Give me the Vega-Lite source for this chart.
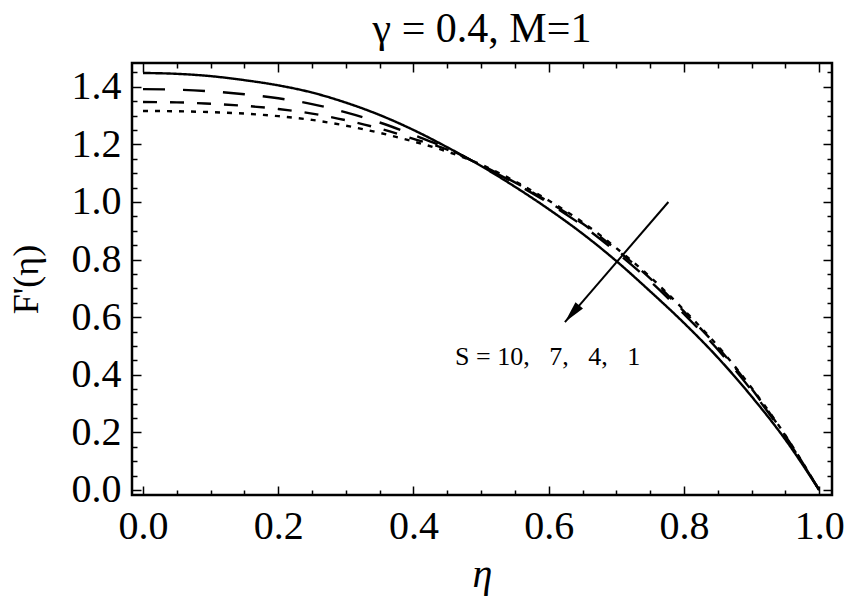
{
  "$schema": "https://vega.github.io/schema/vega-lite/v6.json",
  "width": 700,
  "height": 432,
  "autosize": "none",
  "padding": {"left": 132, "top": 63, "right": 12, "bottom": 104},
  "background": "white",
  "config": {
    "view": {"stroke": "black", "strokeWidth": 2.5},
    "font": "Liberation Serif",
    "axis": {"grid": false, "domain": false, "tickColor": "black", "tickWidth": 1.5, "labelColor": "black", "titleColor": "black", "labelFont": "Liberation Serif", "titleFont": "Liberation Serif", "titleFontWeight": "normal", "labelFlush": false, "labelOverlap": false}
  },
  "title": {"text": "γ = 0.4, M=1", "fontSize": 42, "font": "Liberation Serif", "fontWeight": "normal", "offset": 11, "anchor": "middle", "color": "black"},
  "datasets": {
    "curves": [
      {"eta": 0, "F": 1.448, "S": "10"}, {"eta": 0.05, "F": 1.445, "S": "10"}, {"eta": 0.1, "F": 1.437, "S": "10"}, {"eta": 0.15, "F": 1.423, "S": "10"}, {"eta": 0.2, "F": 1.405, "S": "10"}, {"eta": 0.25, "F": 1.38, "S": "10"}, {"eta": 0.3, "F": 1.345, "S": "10"}, {"eta": 0.35, "F": 1.302, "S": "10"}, {"eta": 0.4, "F": 1.25, "S": "10"}, {"eta": 0.45, "F": 1.19, "S": "10"}, {"eta": 0.5, "F": 1.125, "S": "10"}, {"eta": 0.55, "F": 1.053, "S": "10"}, {"eta": 0.6, "F": 0.975, "S": "10"}, {"eta": 0.65, "F": 0.89, "S": "10"}, {"eta": 0.7, "F": 0.795, "S": "10"}, {"eta": 0.75, "F": 0.69, "S": "10"}, {"eta": 0.8, "F": 0.58, "S": "10"}, {"eta": 0.85, "F": 0.46, "S": "10"}, {"eta": 0.9, "F": 0.325, "S": "10"}, {"eta": 0.95, "F": 0.175, "S": "10"}, {"eta": 1, "F": 0, "S": "10"},
      {"eta": 0, "F": 1.392, "S": "7"}, {"eta": 0.05, "F": 1.39, "S": "7"}, {"eta": 0.1, "F": 1.384, "S": "7"}, {"eta": 0.15, "F": 1.374, "S": "7"}, {"eta": 0.2, "F": 1.36, "S": "7"}, {"eta": 0.25, "F": 1.34, "S": "7"}, {"eta": 0.3, "F": 1.311, "S": "7"}, {"eta": 0.35, "F": 1.276, "S": "7"}, {"eta": 0.4, "F": 1.233, "S": "7"}, {"eta": 0.45, "F": 1.186, "S": "7"}, {"eta": 0.5, "F": 1.127, "S": "7"}, {"eta": 0.55, "F": 1.065, "S": "7"}, {"eta": 0.6, "F": 0.996, "S": "7"}, {"eta": 0.65, "F": 0.918, "S": "7"}, {"eta": 0.7, "F": 0.826, "S": "7"}, {"eta": 0.75, "F": 0.725, "S": "7"}, {"eta": 0.8, "F": 0.611, "S": "7"}, {"eta": 0.85, "F": 0.488, "S": "7"}, {"eta": 0.9, "F": 0.346, "S": "7"}, {"eta": 0.95, "F": 0.185, "S": "7"}, {"eta": 1, "F": 0, "S": "7"},
      {"eta": 0, "F": 1.347, "S": "4"}, {"eta": 0.05, "F": 1.346, "S": "4"}, {"eta": 0.1, "F": 1.341, "S": "4"}, {"eta": 0.15, "F": 1.334, "S": "4"}, {"eta": 0.2, "F": 1.323, "S": "4"}, {"eta": 0.25, "F": 1.307, "S": "4"}, {"eta": 0.3, "F": 1.284, "S": "4"}, {"eta": 0.35, "F": 1.255, "S": "4"}, {"eta": 0.4, "F": 1.219, "S": "4"}, {"eta": 0.45, "F": 1.182, "S": "4"}, {"eta": 0.5, "F": 1.128, "S": "4"}, {"eta": 0.55, "F": 1.068, "S": "4"}, {"eta": 0.6, "F": 1.0, "S": "4"}, {"eta": 0.65, "F": 0.925, "S": "4"}, {"eta": 0.7, "F": 0.835, "S": "4"}, {"eta": 0.75, "F": 0.735, "S": "4"}, {"eta": 0.8, "F": 0.62, "S": "4"}, {"eta": 0.85, "F": 0.496, "S": "4"}, {"eta": 0.9, "F": 0.352, "S": "4"}, {"eta": 0.95, "F": 0.188, "S": "4"}, {"eta": 1, "F": 0, "S": "4"},
      {"eta": 0, "F": 1.316, "S": "1"}, {"eta": 0.05, "F": 1.315, "S": "1"}, {"eta": 0.1, "F": 1.312, "S": "1"}, {"eta": 0.15, "F": 1.307, "S": "1"}, {"eta": 0.2, "F": 1.298, "S": "1"}, {"eta": 0.25, "F": 1.285, "S": "1"}, {"eta": 0.3, "F": 1.265, "S": "1"}, {"eta": 0.35, "F": 1.24, "S": "1"}, {"eta": 0.4, "F": 1.21, "S": "1"}, {"eta": 0.45, "F": 1.175, "S": "1"}, {"eta": 0.5, "F": 1.13, "S": "1"}, {"eta": 0.55, "F": 1.072, "S": "1"}, {"eta": 0.6, "F": 1.005, "S": "1"}, {"eta": 0.65, "F": 0.93, "S": "1"}, {"eta": 0.7, "F": 0.84, "S": "1"}, {"eta": 0.75, "F": 0.74, "S": "1"}, {"eta": 0.8, "F": 0.625, "S": "1"}, {"eta": 0.85, "F": 0.5, "S": "1"}, {"eta": 0.9, "F": 0.355, "S": "1"}, {"eta": 0.95, "F": 0.19, "S": "1"}, {"eta": 1, "F": 0, "S": "1"}
    ],
    "label": [{"eta": 0.4615, "F": 0.434, "text": "S\u00a0=\u00a010,\u00a0\u00a0\u00a07,\u00a0\u00a0\u00a04,\u00a0\u00a0\u00a01"}],
    "arrow": [{"eta": 0.777, "F": 1.0, "eta2": 0.624, "F2": 0.583}],
    "head": [{"eta": 0.624, "F": 0.583}]
  },
  "layer": [
    {
      "data": {"name": "curves"},
      "mark": {"type": "line", "color": "black", "strokeWidth": 2.4, "interpolate": "monotone", "clip": true},
      "encoding": {
        "x": {"field": "eta", "type": "quantitative", "scale": {"domain": [-0.0163, 1.019], "nice": false, "zero": false},
          "axis": {"orient": "bottom", "values": [0, 0.2, 0.4, 0.6, 0.8, 1], "format": ".1f", "labelFontSize": 40, "tickSize": -9, "labelPadding": 20, "title": "η", "titleFontSize": 40, "titleFontStyle": "italic", "titlePadding": 8}},
        "y": {"field": "F", "type": "quantitative", "scale": {"domain": [-0.0174, 1.4826], "nice": false, "zero": false},
          "axis": {"orient": "left", "values": [0, 0.2, 0.4, 0.6, 0.8, 1, 1.2, 1.4], "format": ".1f", "labelFontSize": 40, "tickSize": -9, "labelPadding": 20, "title": "F'(η)", "titleFontSize": 36, "titlePadding": 26}},
        "strokeDash": {"field": "S", "type": "nominal", "scale": {"domain": ["10", "7", "4", "1"], "range": [[1, 0], [22, 18], [14, 13], [5, 7]]}, "legend": null},
        "detail": {"field": "S"}
      }
    },
    {
      "data": {"name": "label"},
      "mark": {"type": "text", "align": "left", "baseline": "alphabetic", "fontSize": 26, "font": "Liberation Serif", "color": "black"},
      "encoding": {
        "x": {"field": "eta", "type": "quantitative", "scale": {"domain": [-0.0163, 1.019], "nice": false, "zero": false},
          "axis": {"orient": "top", "values": [0, 0.2, 0.4, 0.6, 0.8, 1], "labels": false, "tickSize": -9, "title": null}},
        "y": {"field": "F", "type": "quantitative", "scale": {"domain": [-0.0174, 1.4826], "nice": false, "zero": false},
          "axis": {"orient": "right", "values": [0, 0.2, 0.4, 0.6, 0.8, 1, 1.2, 1.4], "labels": false, "tickSize": -9, "title": null}},
        "text": {"field": "text"}
      }
    },
    {
      "data": {"name": "arrow"},
      "mark": {"type": "rule", "color": "black", "strokeWidth": 2},
      "encoding": {
        "x": {"field": "eta", "type": "quantitative", "scale": {"domain": [-0.0163, 1.019], "nice": false, "zero": false},
          "axis": {"orient": "bottom", "values": [0.05, 0.1, 0.15, 0.25, 0.3, 0.35, 0.45, 0.5, 0.55, 0.65, 0.7, 0.75, 0.85, 0.9, 0.95], "labels": false, "tickSize": -5, "title": null}},
        "y": {"field": "F", "type": "quantitative", "scale": {"domain": [-0.0174, 1.4826], "nice": false, "zero": false},
          "axis": {"orient": "left", "values": [0.05, 0.1, 0.15, 0.25, 0.3, 0.35, 0.45, 0.5, 0.55, 0.65, 0.7, 0.75, 0.85, 0.9, 0.95, 1.05, 1.1, 1.15, 1.25, 1.3, 1.35, 1.45], "labels": false, "tickSize": -5, "title": null}},
        "x2": {"field": "eta2"},
        "y2": {"field": "F2"}
      }
    },
    {
      "data": {"name": "head"},
      "mark": {"type": "point", "shape": "M0,0L-0.45,2L0.45,2Z", "size": 484, "angle": 220.6, "filled": true, "color": "black", "opacity": 1},
      "encoding": {
        "x": {"field": "eta", "type": "quantitative", "scale": {"domain": [-0.0163, 1.019], "nice": false, "zero": false},
          "axis": {"orient": "top", "values": [0.05, 0.1, 0.15, 0.25, 0.3, 0.35, 0.45, 0.5, 0.55, 0.65, 0.7, 0.75, 0.85, 0.9, 0.95], "labels": false, "tickSize": -5, "title": null}},
        "y": {"field": "F", "type": "quantitative", "scale": {"domain": [-0.0174, 1.4826], "nice": false, "zero": false},
          "axis": {"orient": "right", "values": [0.05, 0.1, 0.15, 0.25, 0.3, 0.35, 0.45, 0.5, 0.55, 0.65, 0.7, 0.75, 0.85, 0.9, 0.95, 1.05, 1.1, 1.15, 1.25, 1.3, 1.35, 1.45], "labels": false, "tickSize": -5, "title": null}}
      }
    }
  ],
  "resolve": {"axis": {"x": "independent", "y": "independent"}}
}
